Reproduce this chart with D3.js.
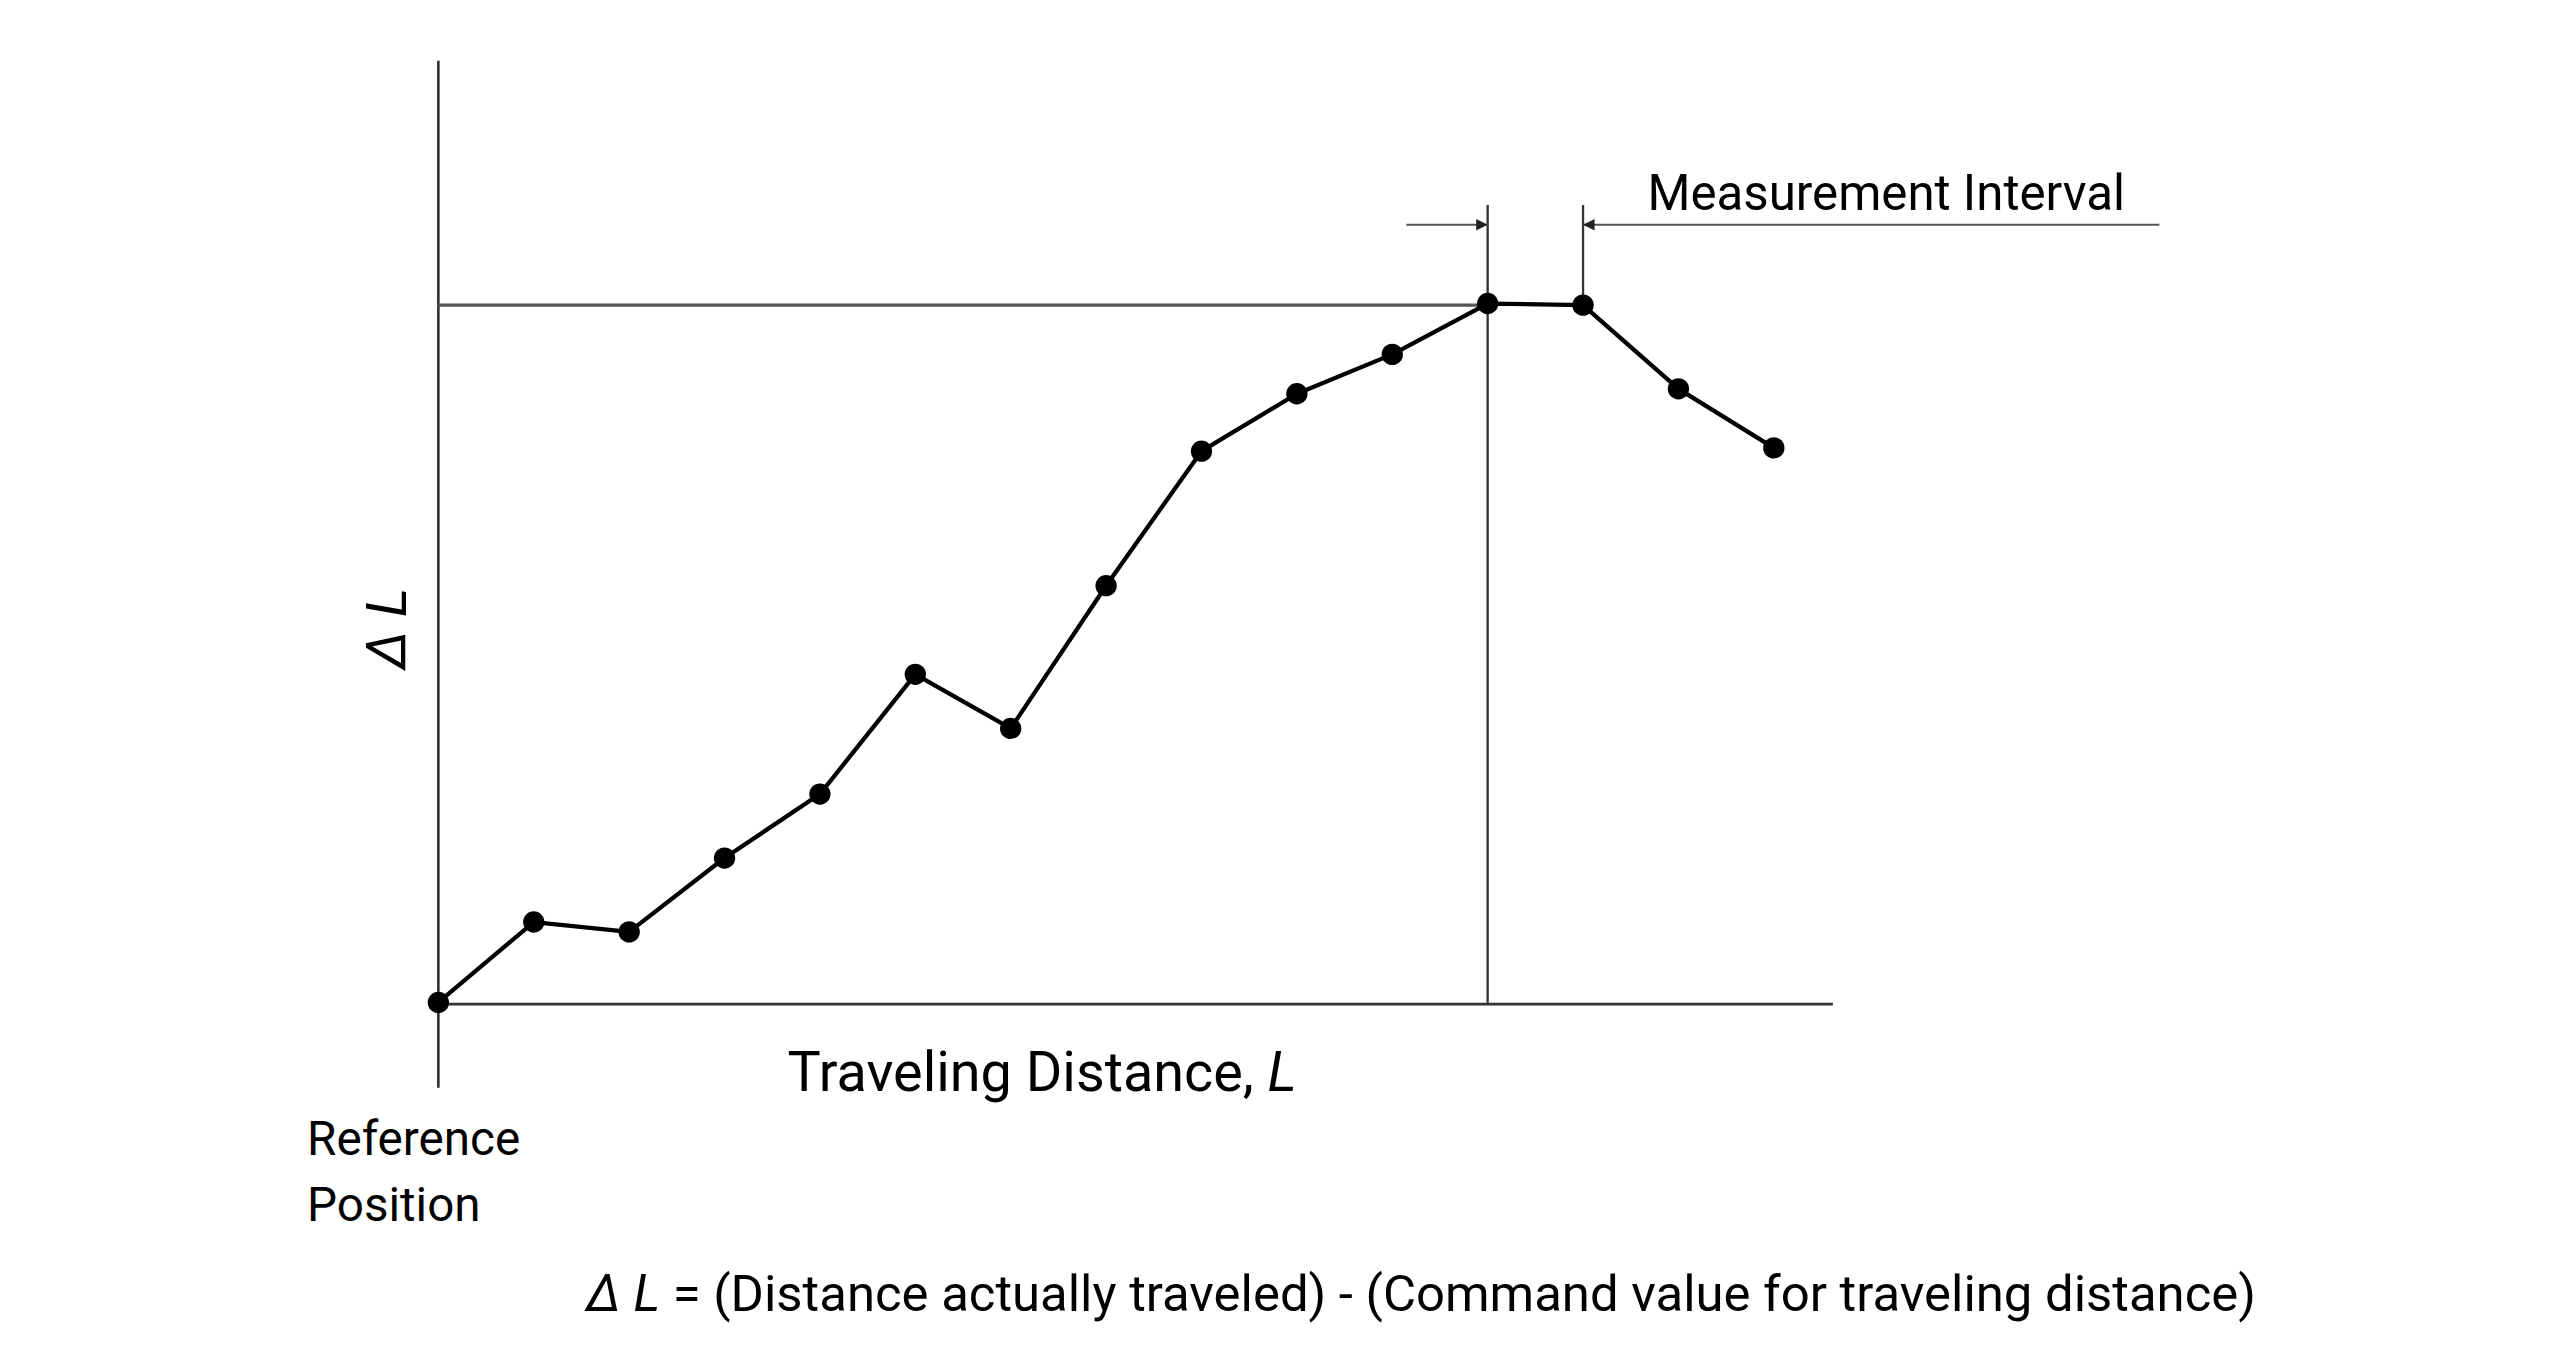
<!DOCTYPE html>
<html>
<head>
<meta charset="utf-8">
<script src="https://cdn.jsdelivr.net/npm/d3@7"></script>
<style>
  html, body { margin: 0; padding: 0; background: #fff; }
  svg { display: block; font-family: Roboto, "Noto Sans", sans-serif; }
</style>
</head>
<body>
<div id="chart"></div>
<script>
// measurement points (index along travel, deviation in arbitrary units)
const steps = [0, 1, 2, 3, 4, 5, 6, 7, 8, 9, 10, 11, 12, 13, 14];
const deltaL = [1, 50, 44, 89, 128, 201, 168, 255, 337, 372, 396, 427, 426, 375, 339];
const peakValue = 426;
const peakStart = 11;   // measurement interval between steps 11 and 12
const peakEnd = 12;

const W = 1560, H = 832;
const svg = d3.select("#chart").append("svg")
    .attr("width", 2560).attr("height", 1365)
    .attr("viewBox", [0, 0, W, H]);

const x = d3.scaleLinear().domain([0, 14]).range([267, 1081]);
const y = d3.scaleLinear().domain([0, 426]).range([612, 186]);

const ax = "#333";

// axes
svg.append("line").attr("x1", x(0)).attr("x2", x(0)).attr("y1", 37).attr("y2", 663)
  .attr("stroke", ax).attr("stroke-width", 1.6);
svg.append("line").attr("x1", x(0)).attr("x2", 1117).attr("y1", y(0)).attr("y2", y(0))
  .attr("stroke", ax).attr("stroke-width", 1.6);

// guide lines
svg.append("line").attr("x1", x(0)).attr("x2", x(peakStart)).attr("y1", y(peakValue)).attr("y2", y(peakValue))
  .attr("stroke", "#555").attr("stroke-width", 2);
svg.append("line").attr("x1", x(peakStart)).attr("x2", x(peakStart)).attr("y1", 125).attr("y2", y(0))
  .attr("stroke", ax).attr("stroke-width", 1.4);
svg.append("line").attr("x1", x(peakEnd)).attr("x2", x(peakEnd)).attr("y1", 125).attr("y2", y(peakValue))
  .attr("stroke", ax).attr("stroke-width", 1.4);

// measurement interval dimension line
const ay = 137;
svg.append("line").attr("x1", 857).attr("x2", x(peakStart)).attr("y1", ay).attr("y2", ay)
  .attr("stroke", "#555").attr("stroke-width", 1.3);
svg.append("line").attr("x1", x(peakEnd)).attr("x2", 1316).attr("y1", ay).attr("y2", ay)
  .attr("stroke", "#555").attr("stroke-width", 1.3);
svg.append("path")
  .attr("d", `M${x(peakStart)},${ay} l-7,-3.5 l0,7 Z`).attr("fill", "#222");
svg.append("path")
  .attr("d", `M${x(peakEnd)},${ay} l7,-3.5 l0,7 Z`).attr("fill", "#222");

// data line + points
const pts = steps.map((s, i) => [s, deltaL[i]]);
svg.append("path").datum(pts)
  .attr("d", d3.line().x(d => x(d[0])).y(d => y(d[1])))
  .attr("fill", "none").attr("stroke", "#000").attr("stroke-width", 2.6)
  .attr("stroke-linejoin", "round");
svg.append("g").selectAll("circle").data(pts).join("circle")
  .attr("cx", d => x(d[0])).attr("cy", d => y(d[1])).attr("r", 6.5).attr("fill", "#000");

// text
svg.append("text").attr("x", 1004).attr("y", 128).attr("font-size", 30).text("Measurement Interval");
svg.append("text").attr("x", 635).attr("y", 665).attr("font-size", 34).attr("text-anchor", "middle")
  .html('Traveling Distance, <tspan font-style="italic">L</tspan>');
svg.append("text").attr("x", 187).attr("y", 704).attr("font-size", 29).text("Reference");
svg.append("text").attr("x", 187).attr("y", 744).attr("font-size", 29).text("Position");
svg.append("text").attr("transform", "translate(247,383) rotate(-90)").attr("font-size", 34)
  .attr("text-anchor", "middle").attr("font-style", "italic").text("Δ L");
svg.append("text").attr("x", 866).attr("y", 799).attr("font-size", 31).attr("text-anchor", "middle")
  .html('<tspan font-style="italic">Δ L</tspan> = (Distance actually traveled) - (Command value for traveling distance)');
</script>
</body>
</html>
